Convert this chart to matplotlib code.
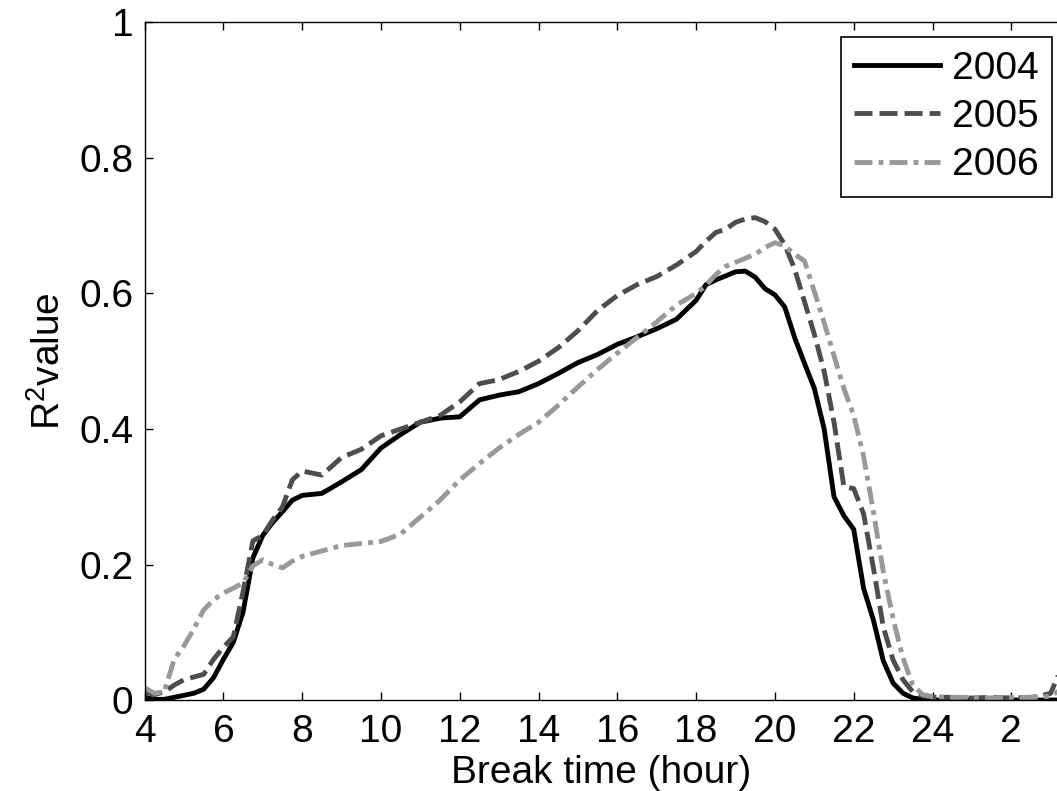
import numpy as np
import matplotlib
matplotlib.use('Agg')
from matplotlib import pyplot as plt

# Break time (hour of day, values past 24 are the next morning)
hours = [4, 4.25, 4.5, 4.75, 5, 5.25, 5.5, 5.75, 6, 6.25, 6.5, 6.75, 7, 7.25, 7.5, 7.75,
         8, 8.5, 9, 9.5, 10, 10.5, 11, 11.5, 12, 12.5, 13, 13.5, 14, 14.5, 15, 15.5,
         16, 16.5, 17, 17.5, 18, 18.25, 18.5, 18.75, 19, 19.25, 19.5, 19.75, 20, 20.25,
         20.5, 20.75, 21, 21.25, 21.5, 21.75, 22, 22.25, 22.5, 22.75, 23, 23.25, 23.5,
         23.75, 24, 24.5, 25, 25.5, 26, 26.5, 26.75, 27, 27.25]

# R^2 values for each year
r2_2004 = [0.004, 0.001, 0.001, 0.004, 0.007, 0.010, 0.016, 0.033, 0.060, 0.085, 0.130, 0.210,
           0.243, 0.262, 0.278, 0.295, 0.302, 0.305, 0.322, 0.340, 0.372, 0.392, 0.410, 0.416,
           0.418, 0.443, 0.450, 0.455, 0.467, 0.482, 0.498, 0.510, 0.525, 0.536, 0.548, 0.562,
           0.590, 0.613, 0.620, 0.626, 0.632, 0.633, 0.624, 0.607, 0.598, 0.580, 0.535, 0.497,
           0.460, 0.400, 0.300, 0.272, 0.252, 0.165, 0.118, 0.058, 0.025, 0.010, 0.003, 0.001,
           0.000, 0.000, 0.000, 0.000, 0.000, 0.000, 0.000, 0.000, 0.000]
r2_2005 = [0.012, 0.008, 0.012, 0.022, 0.030, 0.034, 0.038, 0.060, 0.078, 0.093, 0.160, 0.235,
           0.243, 0.266, 0.285, 0.325, 0.338, 0.332, 0.358, 0.370, 0.390, 0.400, 0.410, 0.420,
           0.440, 0.467, 0.473, 0.485, 0.500, 0.520, 0.545, 0.575, 0.597, 0.613, 0.625, 0.642,
           0.662, 0.677, 0.690, 0.695, 0.705, 0.710, 0.712, 0.706, 0.695, 0.672, 0.636, 0.588,
           0.540, 0.485, 0.410, 0.315, 0.312, 0.275, 0.195, 0.108, 0.059, 0.030, 0.012, 0.006,
           0.004, 0.004, 0.003, 0.004, 0.003, 0.004, 0.006, 0.010, 0.045]
r2_2006 = [0.018, 0.010, 0.012, 0.060, 0.080, 0.105, 0.133, 0.148, 0.158, 0.165, 0.173, 0.198,
           0.207, 0.200, 0.195, 0.205, 0.212, 0.220, 0.228, 0.231, 0.234, 0.245, 0.270, 0.295,
           0.325, 0.349, 0.372, 0.392, 0.410, 0.435, 0.462, 0.488, 0.512, 0.535, 0.558, 0.583,
           0.600, 0.612, 0.628, 0.640, 0.646, 0.652, 0.658, 0.668, 0.675, 0.670, 0.658, 0.648,
           0.603, 0.557, 0.508, 0.460, 0.420, 0.360, 0.278, 0.190, 0.120, 0.062, 0.022, 0.008,
           0.005, 0.004, 0.004, 0.003, 0.004, 0.004, 0.004, 0.006, 0.015]

years = ['2004', '2005', '2006']
tick_hours = [4, 6, 8, 10, 12, 14, 16, 18, 20, 22, 24, 26]
tick_labels = ['4', '6', '8', '10', '12', '14', '16', '18', '20', '22', '24', '2']
y_ticks = [0, 0.2, 0.4, 0.6, 0.8, 1]
y_labels = ['0', '0.2', '0.4', '0.6', '0.8', '1']

# MATLAB-like look
plt.rcParams['font.family'] = ['Liberation Sans', 'DejaVu Sans']
plt.rcParams['mathtext.fontset'] = 'custom'
plt.rcParams['mathtext.rm'] = 'Liberation Sans'
plt.rcParams['mathtext.it'] = 'Liberation Sans'
plt.rcParams['font.size'] = 28

fig = plt.figure(figsize=(10.57, 7.91), dpi=100)
ax = fig.add_axes([0.1368, 0.1150, 0.8632, 0.8566])

ax.plot(hours, r2_2004, color='black', lw=3.5, label=years[0])
ax.plot(hours, r2_2005, color='#4d4d4d', lw=3.5, dashes=(3.7, 1.45), label=years[1])
ax.plot(hours, r2_2006, color='#999999', lw=3.5, dashes=(3.7, 1.25, 1.0, 1.25), label=years[2])

ax.set_xlim(4, 27.16)
ax.set_ylim(0, 1)
ax.set_xticks(tick_hours, labels=tick_labels)
ax.set_yticks(y_ticks, labels=y_labels)
ax.tick_params(direction='in', length=6, width=1, top=True, right=False)
ax.tick_params(axis='x', pad=10)
ax.tick_params(axis='y', pad=8)
ax.spines['right'].set_visible(False)
for s in ['left', 'top', 'bottom']:
    ax.spines[s].set_linewidth(1)

ax.set_xlabel('Break time (hour)', labelpad=4)
ax.set_ylabel(r'R$^{2}$value', labelpad=8)

leg = ax.legend(loc='upper right', bbox_to_anchor=(0.9945, 0.9786), borderaxespad=0,
                fancybox=False, framealpha=1, edgecolor='black', handlelength=2.2,
                handletextpad=0.3, labelspacing=0.32, borderpad=0.35)
leg.get_frame().set_linewidth(1.2)

fig.savefig('out.png', dpi=100)
